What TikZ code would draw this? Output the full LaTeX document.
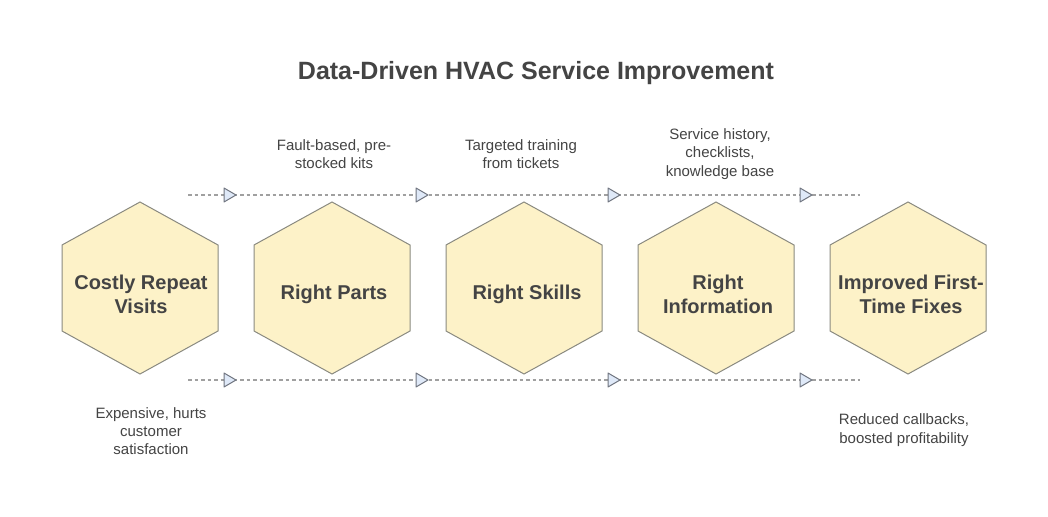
\documentclass[tikz,border=0pt]{standalone}
\usepackage{fontspec}
\setmainfont{Liberation Sans}
\begin{document}
\begin{tikzpicture}[x=1pt,y=-1pt,
  hexbox/.style={draw=hexline,fill=hexfill,line width=1pt},
  flowline/.style={draw=dashgray,line width=1.3pt,dash pattern=on 3.5pt off 3pt},
  marker/.style={draw=markline,fill=markfill,line width=1pt,line join=round},
  hexlabel/.style={font=\bfseries\fontsize{20}{24}\selectfont,text=txt,align=center},
  note/.style={font=\fontsize{15}{18.3}\selectfont,text=txt,align=center},
]
\definecolor{hexfill}{HTML}{FDF2C8}
\definecolor{hexline}{HTML}{8A8A80}
\definecolor{dashgray}{HTML}{A0A0A0}
\definecolor{markline}{HTML}{707580}
\definecolor{markfill}{HTML}{DFE9F8}
\definecolor{txt}{HTML}{444444}
\useasboundingbox (0,0) rectangle (1048,516);
\fill[white] (0,0) rectangle (1048,516);

\node[font=\bfseries\fontsize{25}{30}\selectfont,text=txt] (title) at (536,73) {Data-Driven HVAC Service Improvement};

% flow lines
\coordinate (ts) at (188,195); \coordinate (te) at (860,195);
\coordinate (bs) at (188,380); \coordinate (be) at (860,380);
\draw[flowline] (ts) -- (te);
\draw[flowline] (bs) -- (be);
\foreach \x in {224,416,608,800}{
  \draw[marker] (\x,188) -- (\x+12,195) -- (\x,202) -- cycle;
  \draw[marker] (\x,373) -- (\x+12,380) -- (\x,387) -- cycle;
}

% hexagons
\foreach \cx/\name in {140/h1,332/h2,524/h3,716/h4,908/h5}{
  \draw[hexbox] (\cx,202) -- (\cx+78,245) -- (\cx+78,331) -- (\cx,374) -- (\cx-78,331) -- (\cx-78,245) -- cycle;
  \coordinate (\name) at (\cx,293);
}
\node[hexlabel] at (141,294) {Costly Repeat\\Visits};
\node[hexlabel] at (334,294) {Right Parts};
\node[hexlabel] at (527,294) {Right Skills};
\node[hexlabel] at (718,294) {Right\\Information};
\node[hexlabel] at (911,294) {Improved First-\\Time Fixes};

% notes
\node[note] (n2) at (334,154) {Fault-based, pre-\\stocked kits};
\node[note] (n3) at (521,154) {Targeted training\\from tickets};
\node[note] (n4) at (720,154) {Service history,\\checklists,\\knowledge base};
\node[note] (n1) at (151,431) {Expensive, hurts\\customer\\satisfaction};
\node[note] (n5) at (904,430) {Reduced callbacks,\\boosted profitability};
\end{tikzpicture}
\end{document}
